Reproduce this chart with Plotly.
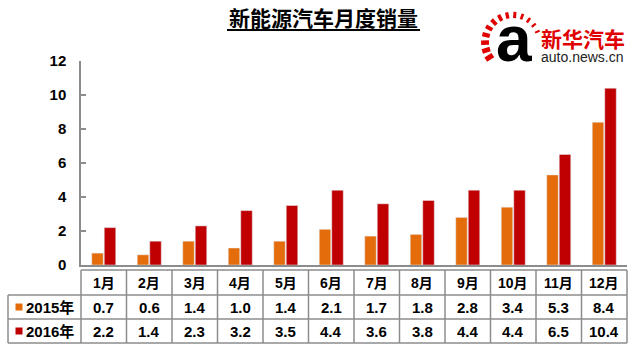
import math
import plotly.graph_objects as go

months = ["1月", "2月", "3月", "4月", "5月", "6月", "7月", "8月", "9月", "10月", "11月", "12月"]
series_names = ["2015年", "2016年"]
sales_2015 = [0.7, 0.6, 1.4, 1.0, 1.4, 2.1, 1.7, 1.8, 2.8, 3.4, 5.3, 8.4]
sales_2016 = [2.2, 1.4, 2.3, 3.2, 3.5, 4.4, 3.6, 3.8, 4.4, 4.4, 6.5, 10.4]
y_ticks = [0, 2, 4, 6, 8, 10, 12]

W, H = 638, 354
L, R, T, B = 81, 627, 61, 265
COL_2015 = "#E46C0A"
COL_2016 = "#C00000"
GRID = "#8C8C8C"
FONT = "Liberation Sans, Arial, Noto Sans CJK SC"


def px(x):
    return (x - L) / (R - L)


def py(y):
    return (B - y) / (B - T)


def ann(x, y, text, size, color="black", family=FONT, weight="bold", xanchor="center"):
    return dict(x=px(x), y=py(y), xref="paper", yref="paper", text=text, showarrow=False,
                xanchor=xanchor, yanchor="middle",
                font=dict(size=size, color=color, family=family, weight=weight))


fig = go.Figure()
fig.add_bar(x=months, y=sales_2015, name=series_names[0], marker_color=COL_2015)
fig.add_bar(x=months, y=sales_2016, name=series_names[1], marker_color=COL_2016)

shapes = []
annotations = []

# table grid
rows_y = [270, 295, 319, 343]
ncol = len(months)
shapes.append(dict(type="line", xref="paper", yref="paper", x0=0, x1=1, y0=py(270), y1=py(270),
                   line=dict(color=GRID, width=1.5)))
for yy in rows_y[1:]:
    shapes.append(dict(type="line", xref="paper", yref="paper", x0=px(8), x1=1, y0=py(yy), y1=py(yy),
                       line=dict(color=GRID, width=1.5)))
for k in range(ncol + 1):
    shapes.append(dict(type="line", xref="paper", yref="paper", x0=k / ncol, x1=k / ncol,
                       y0=py(270), y1=py(343), line=dict(color=GRID, width=1.5)))
shapes.append(dict(type="line", xref="paper", yref="paper", x0=px(8), x1=px(8),
                   y0=py(295), y1=py(343), line=dict(color=GRID, width=1.5)))

row_centers = [282.5, 307, 331]
colw = (R - L) / ncol
for i, m in enumerate(months):
    xc = L + (i + 0.5) * colw
    annotations.append(ann(xc, row_centers[0], m, 14))
    for r, vals in enumerate([sales_2015, sales_2016]):
        annotations.append(ann(xc, row_centers[r + 1], f"{vals[i]:.1f}", 15))

for r, (nm, col) in enumerate(zip(series_names, [COL_2015, COL_2016])):
    yc = row_centers[r + 1]
    shapes.append(dict(type="rect", xref="paper", yref="paper", x0=px(15.5), x1=px(22.5),
                       y0=py(yc - 3.5), y1=py(yc + 3.5), fillcolor=col, line=dict(width=0)))
    annotations.append(ann(24, yc, nm, 15, xanchor="left"))

# title
annotations.append(ann(323, 17, "新能源汽车月度销量", 21, family="Noto Sans CJK SC"))
shapes.append(dict(type="line", xref="paper", yref="paper", x0=px(227), x1=px(420), y0=py(30), y1=py(30),
                   line=dict(color="black", width=2)))

# logo
cx, cy = 513, 42
n = 13
for j in range(n):
    ang = math.radians(213 - j * (190 / (n - 1)))
    r0, r1 = 24, 32.5 - j * 0.3
    wdt = 5 - j * 0.25
    shapes.append(dict(type="line", xref="paper", yref="paper",
                       x0=px(cx + r0 * math.cos(ang)), y0=py(cy - r0 * math.sin(ang)),
                       x1=px(cx + r1 * math.cos(ang)), y1=py(cy - r1 * math.sin(ang)),
                       line=dict(color="#E00000", width=wdt)))
annotations.append(ann(514, 39, "a", 64, family="Liberation Sans"))
annotations.append(ann(539, 38.5, "新华汽车", 21, color="#E00000", family="Noto Sans CJK SC", xanchor="left"))
annotations.append(ann(539, 56.5, "auto.news.cn", 14, color="#222222", family="Liberation Sans",
                       weight="normal", xanchor="left"))

fig.update_layout(
    width=W, height=H,
    margin=dict(l=L, r=W - R, t=T, b=H - B, pad=0),
    paper_bgcolor="white", plot_bgcolor="white",
    barmode="group", bargap=0.45, bargroupgap=0.08,
    showlegend=False,
    shapes=shapes, annotations=annotations,
    xaxis=dict(showticklabels=False, ticks="", showline=True, linecolor=GRID, linewidth=1.5,
               showgrid=False, zeroline=False, fixedrange=True),
    yaxis=dict(range=[0, 12], tickvals=y_ticks, ticks="inside", ticklen=5, tickcolor=GRID, tickwidth=1.5,
               showline=True, linecolor=GRID, linewidth=1.5, showgrid=False, zeroline=False,
               ticklabelstandoff=10,
               tickfont=dict(size=15, color="black", family=FONT, weight="bold")),
)

fig.write_html("out.html")
